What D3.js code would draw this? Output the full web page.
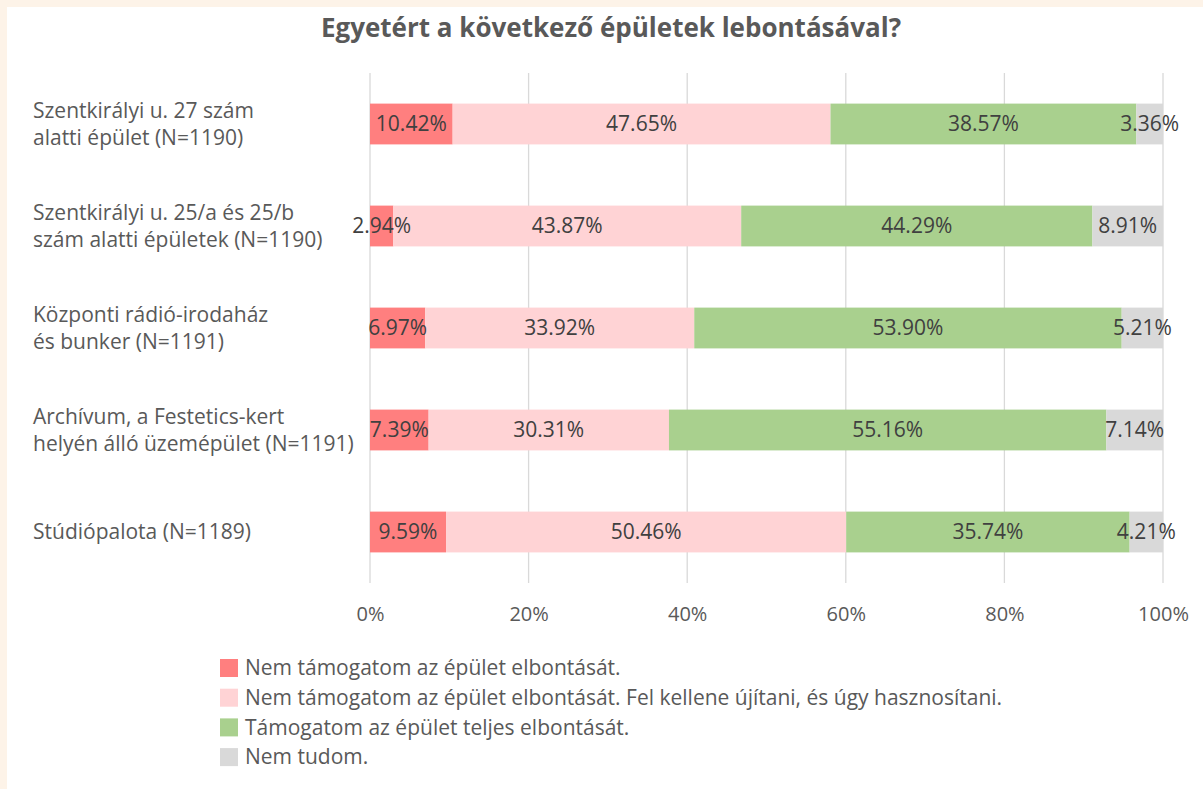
<!DOCTYPE html>
<html>
<head>
<meta charset="utf-8">
<script src="https://cdn.jsdelivr.net/npm/d3@7"></script>
<style>
  body { margin: 0; background: #fdf3e8; }
  svg { display: block; }
  text { font-family: "Open Sans", sans-serif; }
</style>
</head>
<body>
<div id="chart"></div>
<script>
// chart data
const title = "Egyetért a következő épületek lebontásával?";
const categories = [
  ["Szentkirályi u. 27 szám", "alatti épület (N=1190)"],
  ["Szentkirályi u. 25/a és 25/b", "szám alatti épületek (N=1190)"],
  ["Központi rádió-irodaház", "és bunker (N=1191)"],
  ["Archívum, a Festetics-kert", "helyén álló üzemépület (N=1191)"],
  ["Stúdiópalota (N=1189)"]
];
const seriesNames = [
  "Nem támogatom az épület elbontását.",
  "Nem támogatom az épület elbontását. Fel kellene újítani, és úgy hasznosítani.",
  "Támogatom az épület teljes elbontását.",
  "Nem tudom."
];
const notSupport = [10.42, 2.94, 6.97, 7.39, 9.59];
const renovate = [47.65, 43.87, 33.92, 30.31, 50.46];
const demolish = [38.57, 44.29, 53.90, 55.16, 35.74];
const dontKnow = [3.36, 8.91, 5.21, 7.14, 4.21];
const xTicks = [0, 20, 40, 60, 80, 100];
const colors = ["#ff7f7f", "#ffd3d5", "#a9d08e", "#d9d9d9"];

const W = 1203, H = 789;
const margin = {top: 73, left: 370, right: 40, bottom: 206};
const w = 1163 - margin.left;
const h = 583 - margin.top;

const svg = d3.select("#chart").append("svg")
  .attr("width", W).attr("height", H);

// white panel
svg.append("rect").attr("x", 7).attr("y", 7)
  .attr("width", W - 7).attr("height", H - 7)
  .attr("fill", "#fff");

svg.append("text")
  .attr("x", 611).attr("y", 37)
  .attr("text-anchor", "middle")
  .attr("font-size", 26).attr("font-weight", "bold")
  .attr("fill", "#595959")
  .text(title);

const g = svg.append("g").attr("transform", "translate(" + margin.left + "," + margin.top + ")");

const x = d3.scaleLinear().domain([0, 100]).range([0, w]);
const y = d3.scaleBand().domain(d3.range(categories.length)).range([0, h]).paddingInner(0.6).paddingOuter(0.3);

// grid
g.selectAll(".grid").data(xTicks).enter().append("line")
  .attr("x1", d => x(d)).attr("x2", d => x(d))
  .attr("y1", 0).attr("y2", h)
  .attr("stroke", "#d9d9d9").attr("stroke-width", 1.3);

const xAxis = g.append("g")
  .attr("transform", "translate(0," + h + ")")
  .call(d3.axisBottom(x).tickValues(xTicks).tickFormat(d => d + "%").tickSize(0).tickPadding(24));
xAxis.select(".domain").remove();
xAxis.selectAll("text").attr("font-size", 20).attr("fill", "#595959").attr("font-family", "Open Sans, sans-serif");

const series = [notSupport, renovate, demolish, dontKnow];
const rows = categories.map((c, i) => {
  let acc = 0;
  return series.map((s, k) => {
    const d = {row: i, k: k, x0: acc, v: s[i]};
    acc += s[i];
    return d;
  });
});

const segs = rows.flat();
g.selectAll(".seg").data(segs).enter().append("rect")
  .attr("x", d => x(d.x0))
  .attr("y", d => y(d.row))
  .attr("width", d => x(d.x0 + d.v) - x(d.x0))
  .attr("height", y.bandwidth())
  .attr("fill", d => colors[d.k]);

g.selectAll(".lbl").data(segs).enter().append("text")
  .attr("x", d => x(d.x0 + d.v / 2))
  .attr("y", d => y(d.row) + y.bandwidth() / 2)
  .attr("dy", "0.35em")
  .attr("text-anchor", "middle")
  .attr("font-size", 21)
  .attr("fill", "#404040")
  .text(d => d.v.toFixed(2) + "%");

// category labels
categories.forEach((lines, i) => {
  const cy = margin.top + y(i) + y.bandwidth() / 2;
  const t = svg.append("text")
    .attr("x", 33)
    .attr("font-size", 21)
    .attr("fill", "#595959");
  lines.forEach((ln, j) => {
    t.append("tspan")
      .attr("x", 33)
      .attr("y", cy + (j - (lines.length - 1) / 2) * 27)
      .attr("dy", "0.35em")
      .text(ln);
  });
});

// legend
const lg = svg.append("g").attr("transform", "translate(220,668)");
seriesNames.forEach((name, k) => {
  const row = lg.append("g").attr("transform", "translate(0," + k * 29.7 + ")");
  row.append("rect").attr("x", 0).attr("y", -9).attr("width", 18).attr("height", 18).attr("fill", colors[k]);
  row.append("text").attr("x", 25).attr("y", 0).attr("dy", "0.35em")
    .attr("font-size", 21).attr("fill", "#595959").text(name);
});
</script>
</body>
</html>
